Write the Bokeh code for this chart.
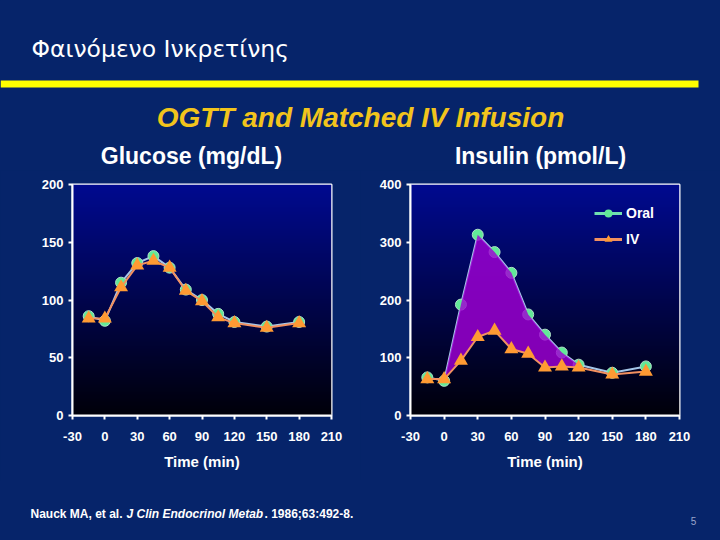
import numpy as np
from bokeh.plotting import figure
from bokeh.layouts import column, row
from bokeh.models import Range1d, FixedTicker, Legend, LegendItem
from bokeh.core.properties import value
from bokeh.embed import file_html
from bokeh.resources import INLINE

# ---------------- data ----------------
time_min = [-15, 0, 15, 30, 45, 60, 75, 90, 105, 120, 150, 180]
glucose_oral = [86, 82, 115, 132, 138, 128, 109, 100, 88, 81, 77, 81]
glucose_iv = [84, 84, 111, 130, 134, 128, 108, 99, 85, 80, 76, 80]
insulin_oral = [66, 60, 192, 313, 283, 247, 175, 140, 109, 88, 74, 85]
insulin_iv = [63, 63, 95, 136, 147, 115, 107, 83, 85, 83, 71, 76]
x_ticks = [-30, 0, 30, 60, 90, 120, 150, 180, 210]
glucose_ticks = [0, 50, 100, 150, 200]
insulin_ticks = [0, 100, 200, 300, 400]
incretin_idx = slice(1, 10)  # 0 .. 120 min shaded

BG = "#06246a"
ORAL_LINE = "#a4c6e8"
ORAL_FILL = "#62ea98"
IV_LINE = "#f29060"
IV_FILL = "#ff9a33"
FONT = "Liberation Sans"


def gradient(p, x0, x1, y0, y1):
    n = 200
    t = np.linspace(0, 1, n)[:, None]
    top = np.array([0, 10, 144])[None, :]
    bot = np.array([0, 0, 10])[None, :]
    cols = (bot * (1 - t) + top * t).astype(np.uint8)
    img = np.empty((n, 4), dtype=np.uint32)
    view = img.view(dtype=np.uint8).reshape((n, 4, 4))
    for k in range(3):
        view[:, :, k] = cols[:, k][:, None]
    view[:, :, 3] = 255
    p.image_rgba(image=[img], x=x0, y=y0, dw=x1 - x0, dh=y1 - y0)


def make_chart(width, left, right, ymax, yticks):
    p = figure(width=width, height=310, x_range=Range1d(-30, 210),
               y_range=Range1d(0, ymax), output_backend="svg",
               toolbar_location=None, min_border_left=left,
               min_border_right=right, min_border_top=14, min_border_bottom=65)
    p.background_fill_color = BG
    p.border_fill_color = BG
    p.grid.visible = False
    p.outline_line_color = "white"
    p.outline_line_width = 2
    p.xaxis.ticker = FixedTicker(ticks=x_ticks)
    p.yaxis.ticker = FixedTicker(ticks=yticks)
    p.xaxis.major_label_overrides = {-30: "-30"}
    for ax in (p.xaxis[0], p.yaxis[0]):
        ax.axis_line_color = "white"
        ax.axis_line_width = 2
        ax.major_tick_line_color = "white"
        ax.major_tick_line_width = 2
        ax.major_tick_in = 0
        ax.major_tick_out = 4
        ax.minor_tick_line_color = None
        ax.major_label_text_color = "white"
        ax.major_label_text_font = FONT
        ax.major_label_text_font_style = "bold"
        ax.major_label_text_font_size = "13px"
    p.xaxis.major_label_standoff = 12
    p.yaxis.major_label_standoff = 5
    p.xaxis.axis_label = "Time (min)"
    p.xaxis.axis_label_text_color = "white"
    p.xaxis.axis_label_text_font = FONT
    p.xaxis.axis_label_text_font_style = "bold"
    p.xaxis.axis_label_text_font_size = "15px"
    p.xaxis.axis_label_standoff = 9
    gradient(p, -30, 210, 0, ymax)
    return p


def draw_series(p, oral, iv, shade):
    p.line(time_min, oral, line_color=ORAL_LINE, line_width=2)
    p.scatter(time_min, oral, marker="circle", size=11, fill_color=ORAL_FILL,
              line_color="#b0e0c8", line_width=1)
    if shade:
        p.varea(x=time_min[incretin_idx], y1=iv[incretin_idx],
                y2=oral[incretin_idx], fill_color="#a000d4", fill_alpha=0.82)
    p.line(time_min, iv, line_color=IV_LINE, line_width=2)
    p.scatter(time_min, iv, marker="triangle", size=14, fill_color=IV_FILL,
              line_color=None)


# ---------------- header ----------------
hdr = figure(width=720, height=170, x_range=Range1d(0, 720),
             y_range=Range1d(170, 0), output_backend="svg",
             toolbar_location=None, min_border=0,
             x_axis_type=None, y_axis_type=None)
hdr.background_fill_color = BG
hdr.border_fill_color = BG
hdr.grid.visible = False
hdr.outline_line_color = None
hdr.text(x=[31], y=[48], text=["Φαινόμενο Ινκρετίνης"],
         text_font=value("DejaVu Sans"), text_font_size=value("23.5px"),
         text_color="white", text_baseline="middle", text_align="left")
hdr.quad(left=[0], right=[698], top=[80], bottom=[87],
         fill_color="#ffff00", line_color=None)
hdr.text(x=[360], y=[117], text=["OGTT and Matched IV Infusion"],
         text_font=value(FONT), text_font_size=value("28px"),
         text_font_style="bold italic", text_color="#f2c41c",
         text_baseline="middle", text_align="center")
hdr.text(x=[191, 540], y=[155, 155], text=["Glucose (mg/dL)", "Insulin (pmol/L)"],
         text_font=value(FONT), text_font_size=value("23px"),
         text_font_style="bold", text_color="white",
         text_baseline="middle", text_align="center")

# ---------------- charts ----------------
p1 = make_chart(360, 72, 29, 200, glucose_ticks)
draw_series(p1, glucose_oral, glucose_iv, False)

p2 = make_chart(360, 50, 41, 400, insulin_ticks)
draw_series(p2, insulin_oral, insulin_iv, True)

nan = [np.nan]
lg_ol = p2.line(nan, nan, line_color="#70e0b0", line_width=3)
lg_os = p2.scatter(nan, nan, marker="circle", size=10, fill_color=ORAL_FILL, line_color=None)
lg_il = p2.line(nan, nan, line_color=IV_LINE, line_width=3)
lg_is = p2.scatter(nan, nan, marker="triangle", size=12, fill_color=IV_FILL, line_color=None)
legend = Legend(items=[LegendItem(label="Oral", renderers=[lg_ol, lg_os], index=0),
                       LegendItem(label="IV", renderers=[lg_il, lg_is], index=0)],
                location=(184, 166), background_fill_alpha=0,
                border_line_color=None, label_text_color="white",
                label_text_font=FONT, label_text_font_style="bold",
                label_text_font_size="14px", glyph_width=28, glyph_height=20,
                label_height=20, spacing=6, padding=0, margin=0,
                label_standoff=4)
p2.add_layout(legend)

# ---------------- footer ----------------
ftr = figure(width=720, height=60, x_range=Range1d(0, 720),
             y_range=Range1d(60, 0), output_backend="svg",
             toolbar_location=None, min_border=0,
             x_axis_type=None, y_axis_type=None)
ftr.background_fill_color = BG
ftr.border_fill_color = BG
ftr.grid.visible = False
ftr.outline_line_color = None
ftr.text(x=[30], y=[33], text=["Nauck MA, et al."], text_font=value(FONT),
         text_font_size=value("12px"), text_font_style="bold", text_color="white",
         text_baseline="middle", text_align="left")
ftr.text(x=[126], y=[33], text=["J Clin Endocrinol Metab"], text_font=value(FONT),
         text_font_size=value("12px"), text_font_style="bold italic", text_color="white",
         text_baseline="middle", text_align="left")
ftr.text(x=[264], y=[33], text=[". 1986;63:492-8."], text_font=value(FONT),
         text_font_size=value("12px"), text_font_style="bold", text_color="white",
         text_baseline="middle", text_align="left")
ftr.text(x=[693], y=[40], text=["5"], text_font=value(FONT),
         text_font_size=value("10px"), text_color="#9aa6cc",
         text_baseline="middle", text_align="center")

layout = column(hdr, row(p1, p2, spacing=0), ftr, spacing=0)

html = file_html(layout, INLINE, title="OGTT and Matched IV Infusion")
html = html.replace("</head>",
                    "<style>html,body{margin:0;padding:0;background:%s;overflow:hidden;}</style></head>" % BG, 1)
with open("out.html", "w") as f:
    f.write(html)
